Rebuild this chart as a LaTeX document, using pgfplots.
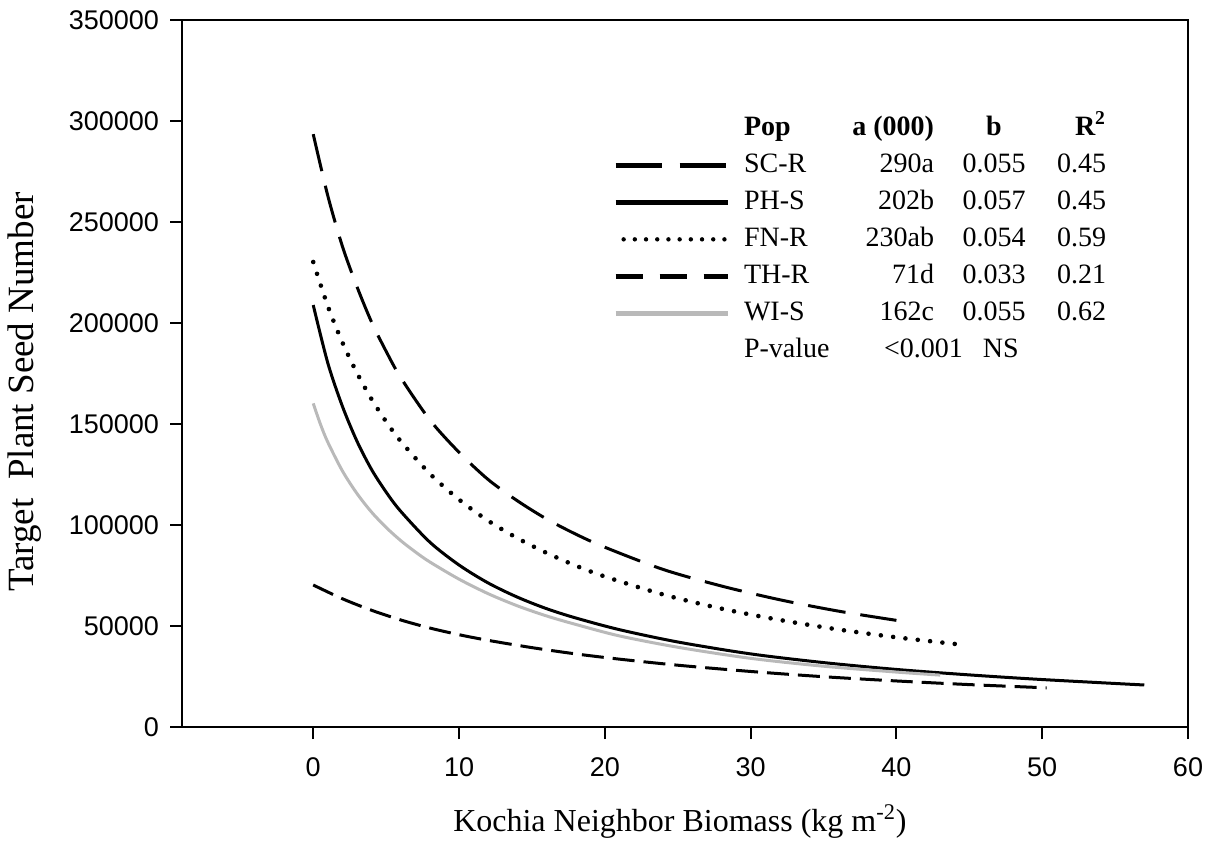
\documentclass[border=0pt]{standalone}
\usepackage{fontspec}
\setmainfont{Liberation Serif}
\newfontfamily\arialfont{Liberation Sans}
\usepackage{pgfplots}
\usepackage{pgfplotstable}
\pgfplotsset{compat=1.18}

\pgfplotstableread{
x y
0 293500
1 263000
2 238000
3 218000
4 200500
5 186000
6 173000
8 152000
10 136000
12 122500
14 112000
16 103000
18 95500
20 89000
24 78000
28 69800
32 63000
36 57400
40 52800
}\scr

\pgfplotstableread{
x y
0 208900
1 180200
2 158800
3 141500
4 127500
5 116300
6 106800
8 91500
10 80200
12 71300
14 64300
16 58600
18 54000
21 48200
25 42100
30 36200
35 31900
40 28500
45 25800
50 23500
57 20800
}\phs

\pgfplotstableread{
x y
0 230200
1 208400
2 190400
3 175300
4 162300
5 151200
6 141500
8 125400
10 112600
12 102100
14 93500
16 86200
18 79900
20 74500
24 65600
28 58600
32 53000
36 48300
40 44400
44.3 40900
}\fnr

\pgfplotstableread{
x y
0 70300
2 63500
4 57800
6 53000
8 49000
10 45700
12 42900
15 39300
18 36200
21 33600
25 30600
30 27500
35 24900
40 22800
45 21000
50.3 19400
}\thr

\pgfplotstableread{
x y
0 160200
0.5 149800
1 141000
2 126800
3 115600
4 106400
5 98800
6 92300
7 86700
8 81700
10 73200
12 66000
14 60000
16 55000
18 50800
21 45100
25 39500
30 34000
35 30100
40 27200
43 25700
}\wis

\newcommand{\lrow}[4]{\makebox[60pt][l]{#1}\makebox[35pt][r]{#2}\makebox[60pt][c]{#3}\makebox[26pt][r]{#4}}

\begin{document}
\begin{tikzpicture}
\begin{axis}[
  scale only axis,
  width=503pt, height=353.5pt,
  xmin=-9, xmax=60, ymin=0, ymax=350000,
  xtick={0,10,20,30,40,50,60},
  xticklabels={0,10,20,30,40,50,60},
  ytick={0,50000,100000,150000,200000,250000,300000,350000},
  yticklabels={0,50000,100000,150000,200000,250000,300000,350000},
  scaled y ticks=false,
  tick align=outside,
  major tick length=6pt,
  xtick pos=lower, ytick pos=left,
  axis line style={line width=1pt},
  tick style={line width=1pt, black},
  ticklabel style={font=\arialfont\fontsize{13.5}{15}\selectfont},
  xticklabel style={yshift=-6pt},
  yticklabel style={xshift=-2pt},
  xlabel={Kochia Neighbor Biomass (kg m\textsuperscript{-2})},
  ylabel={Target\ \ Plant Seed Number},
  xlabel style={font=\fontsize{16}{19}\selectfont, at={(axis description cs:0.495,-0.134)}, anchor=center},
  ylabel style={font=\fontsize{18.5}{20}\selectfont, at={(axis description cs:-0.156,0.474)}, anchor=center},
  legend style={draw=none, fill=none, at={(axis cs:20.55,303000)}, anchor=north west,
    inner sep=0pt, row sep=5.5pt, column sep=7pt,
    font=\fontsize{14}{16}\selectfont,
    nodes={inner sep=0pt, text height=10pt, text depth=3pt}},
  legend cell align=left,
  legend image code/.code={\draw[#1] (0pt,0pt) -- (56pt,0pt);},
]
\addplot[black, line width=1.5pt, smooth, dash pattern=on 19pt off 7.5pt, forget plot] table {\scr};
\addplot[black, line width=1.5pt, smooth, forget plot] table {\phs};
\addplot[black, line width=2.3pt, smooth, line cap=round, dash pattern=on 0pt off 6.2pt, forget plot] table {\fnr};
\addplot[black, line width=1.5pt, smooth, dash pattern=on 11pt off 4.5pt, forget plot] table {\thr};
\addplot[gray!55, line width=1.5pt, smooth, forget plot] table {\wis};

\addlegendimage{empty legend}
\addlegendentry{\lrow{\textbf{Pop}}{\textbf{a (000)}}{\textbf{b}}{\textbf{R\textsuperscript{2}}}}
\addlegendimage{black, line width=2.4pt, dash pattern=on 23pt off 9pt}
\addlegendentry{\lrow{SC-R}{290a}{0.055}{0.45}}
\addlegendimage{black, line width=2.4pt}
\addlegendentry{\lrow{PH-S}{202b}{0.057}{0.45}}
\addlegendimage{black, line width=2.2pt, line cap=round, dash pattern=on 0pt off 5.6pt, dash phase=-4pt}
\addlegendentry{\lrow{FN-R}{230ab}{0.054}{0.59}}
\addlegendimage{black, line width=2.4pt, dash pattern=on 13.5pt off 8.5pt}
\addlegendentry{\lrow{TH-R}{71d}{0.033}{0.21}}
\addlegendimage{gray!55, line width=2.4pt}
\addlegendentry{\lrow{WI-S}{162c}{0.055}{0.62}}
\addlegendimage{empty legend}
\addlegendentry{\makebox[70pt][l]{P-value}\textless0.001\hspace{10pt}NS}
\end{axis}
\pgfresetboundingbox
\path (current axis.south west) ++(-91pt,-57pt) coordinate (bbsw);
\path (current axis.north east) ++(13.5pt,10pt) coordinate (bbne);
\path[use as bounding box] (bbsw) rectangle (bbne);
\end{tikzpicture}
\end{document}
